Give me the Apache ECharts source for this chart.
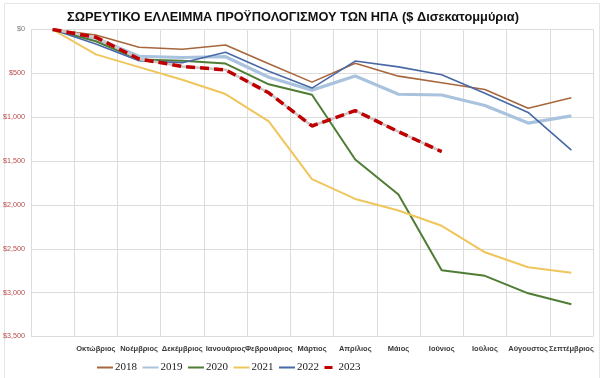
<!DOCTYPE html>
<html>
<head>
<meta charset="utf-8">
<script src="https://cdn.jsdelivr.net/npm/echarts@6/dist/echarts.min.js"></script>
<style>
html,body{margin:0;padding:0;background:#fff;}
#c{width:600px;height:378px;}
</style>
</head>
<body>
<div id="c"></div>
<script>
const titleText = 'ΣΩΡΕΥΤΙΚΟ ΕΛΛΕΙΜΜΑ ΠΡΟΫΠΟΛΟΓΙΣΜΟΥ ΤΩΝ ΗΠΑ ($ Δισεκατομμύρια)';
const months = ['', 'Οκτώβριος', 'Νοέμβριος', 'Δεκέμβριος', 'Ιανουάριος', 'Φεβρουάριος', 'Μάρτιος', 'Απρίλιος', 'Μάιος', 'Ιούνιος', 'Ιούλιος', 'Αύγουστος', 'Σεπτέμβριος'];
const yTicks = [0, -500, -1000, -1500, -2000, -2500, -3000, -3500];
const years = ['2018', '2019', '2020', '2021', '2022', '2023'];

const y2018 = [0, -63, -202, -225, -176, -391, -600, -385, -532, -607, -684, -898, -779];
const y2019 = [0, -100, -305, -319, -310, -544, -691, -531, -738, -747, -867, -1067, -984];
const y2020 = [0, -134, -343, -357, -389, -625, -744, -1482, -1881, -2745, -2808, -3008, -3132];
const y2021 = [0, -284, -429, -573, -736, -1047, -1706, -1932, -2064, -2238, -2540, -2711, -2772];
const y2022 = [0, -165, -357, -378, -259, -475, -668, -360, -426, -515, -726, -946, -1375];
const y2023 = [0, -88, -336, -421, -460, -722, -1100, -925, -1165, -1393];

const chart = echarts.init(document.getElementById('c'), null, {renderer: 'canvas'});

function line(name, data, color, width, extra) {
  return Object.assign({
    name: name, type: 'line', data: data, symbol: 'none', smooth: false,
    lineStyle: {color: color, width: width}, itemStyle: {color: color},
    emphasis: {disabled: true}
  }, extra || {});
}

const thinIcon = 'path://M0,0h16v2h-16z';
const dashIcon = 'path://M0,0h8v3h-8z';

chart.setOption({
  animation: false,
  backgroundColor: '#fff',
  title: {
    text: titleText, left: 62, top: 6,
    textStyle: {fontFamily: 'Liberation Sans', fontWeight: 'bold', fontSize: 12.8, color: '#111'}
  },
  graphic: [{
    type: 'rect', left: 2, top: 1, silent: true,
    shape: {width: 595, height: 375},
    style: {fill: 'none', stroke: '#e6e6e6', lineWidth: 1}
  }],
  legend: {
    left: 92, top: 357, itemWidth: 16, itemHeight: 3, itemGap: 5.5,
    data: years.map(y => ({name: y, icon: y === '2023' ? dashIcon : thinIcon})),
    textStyle: {fontFamily: 'Liberation Serif', fontSize: 11, color: '#222', padding: [0, 0, 0, -3]}
  },
  grid: {left: 27.5, right: 7, top: 29.5, bottom: 41.5, containLabel: false},
  xAxis: {
    type: 'category', data: months, boundaryGap: true,
    axisLine: {show: false}, axisTick: {show: false},
    axisLabel: {interval: 0, margin: 8, fontFamily: 'Liberation Sans', fontSize: 7.5, fontWeight: 'bold', color: '#3a3a3a'},
    splitLine: {show: true, interval: 0, lineStyle: {color: '#dcdcdc', width: 1}}
  },
  yAxis: {
    type: 'value', min: yTicks[yTicks.length - 1], max: yTicks[0], interval: 500,
    axisLine: {show: false}, axisTick: {show: false},
    axisLabel: {
      margin: 6, fontFamily: 'Liberation Sans', fontSize: 7.2,
      formatter: v => '$' + Math.abs(v).toLocaleString('en-US'),
      color: v => (Number(v) === 0 ? '#7a7a7a' : '#b84a4a')
    },
    splitLine: {show: true, lineStyle: {color: '#dcdcdc', width: 1}}
  },
  series: [
    line('2018', y2018, '#a8663c', 1.6),
    line('2019', y2019, '#a9c3de', 3.2),
    line('2020', y2020, '#4f7d35', 2),
    line('2021', y2021, '#efc65c', 2),
    line('2022', y2022, '#4868a6', 1.6),
    line('2023bg', y2023, '#cdc6c6', 2.5, {silent: true, legendHoverLink: false}),
    line('2023', y2023, '#c00000', 3.5, {lineStyle: {color: '#c00000', width: 3.5, type: [9, 5]}})
  ]
});
</script>
</body>
</html>
